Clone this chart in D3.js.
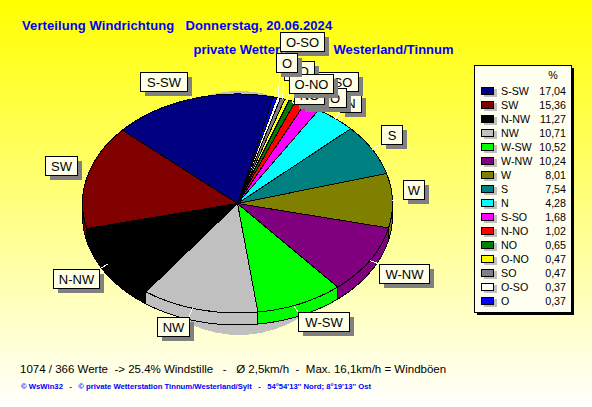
<!DOCTYPE html>
<html><head><meta charset="utf-8">
<script src="https://cdn.jsdelivr.net/npm/d3@7/dist/d3.min.js"></script>
<style>
html,body{margin:0;padding:0;background:#fff}
svg{display:block}
text{font-family:"Liberation Sans",Arial,sans-serif;white-space:pre}
</style></head><body>
<script>
// ---- data ----
const categories = ["S-SW","SW","N-NW","NW","W-SW","W-NW","W","S","N","S-SO","N-NO","NO","O-NO","SO","O-SO","O"];
const percent    = [17.04,15.36,11.27,10.71,10.52,10.24,8.01,7.54,4.28,1.68,1.02,0.65,0.47,0.47,0.37,0.37];
const percentLabels = ["17,04","15,36","11,27","10,71","10,52","10,24","8,01","7,54","4,28","1,68","1,02","0,65","0,47","0,47","0,37","0,37"];
const colors = ["#000080","#800000","#000000","#c0c0c0","#00ff00","#800080","#808000","#008080","#00ffff","#ff00ff","#ff0000","#008000","#ffff00","#808080","#ffffff","#0000ff"];
const title1 = "Verteilung Windrichtung   Donnerstag, 20.06.2024";
const title2 = "private Wetterstation   Westerland/Tinnum";
const statLine = "1074 / 366 Werte  -> 25.4% Windstille   -   Ø 2,5km/h  -  Max. 16,1km/h = Windböen";
const footLine = "© WsWin32   -   © private Wetterstation Tinnum/Westerland/Sylt   -   54°54'13'' Nord; 8°19'13'' Ost";

// ---- layout ----
const W = 592, H = 407;
const pieLayout = {cx:237.5, cy:203.5, rx:155, ry:109.5, depth:12, rotateDeg:13.4};
// label corner offset from the slice anchor on the rim
const labelNudge = {"S-SW":[-4.5,-8],"SW":[-10.5,-1],"N-NW":[-9,5],"NW":[-3.5,9],"W-SW":[4,6.5],"W-NW":[9,3.6],
  "W":[10.5,-1.6],"S":[8.5,-5.6],"N":[4.5,-6.6],"S-SO":[2.5,-16],"N-NO":[0.5,4],"NO":[2,3],"O-NO":[2,-6.7],"SO":[1.5,-18.7],"O-SO":[1.3,-47],"O":[0.7,-25.3]};
const labelWidth = {"S-SW":47,"SW":32,"N-NW":46,"NW":32,"W-SW":51,"W-NW":50,"W":21,"S":21,"N":21,"S-SO":44,"N-NO":46,"NO":30,"O-NO":44,"SO":30,"O-SO":44,"O":21};
const labelOrder = ["S-SW","SW","N-NW","NW","W-SW","W-NW","W","S","N","S-SO","N-NO","NO","SO","O-NO","O-SO","O"];
const overlapSlice = "NW", overlapRad = 5.2*Math.PI/180;

const svg = d3.select("body").append("svg").attr("width",W).attr("height",H);
const grad = svg.append("defs").append("linearGradient").attr("id","bg").attr("x1",0).attr("x2",0).attr("y1",0).attr("y2",1);
grad.append("stop").attr("offset",0).attr("stop-color","#ffff00");
grad.append("stop").attr("offset",1).attr("stop-color","#ffffff");
svg.append("rect").attr("width",W).attr("height",H).attr("fill","url(#bg)");

svg.append("text").attr("x",193.5).attr("y",54).attr("font-size",13).attr("font-weight","bold").attr("fill","#0000ff").text(title2);

const {cx,cy,rx,ry,depth,rotateDeg} = pieLayout;
const start = rotateDeg*Math.PI/180;
const slices = d3.pie().value((d,i)=>percent[i]).sort(null).startAngle(start).endAngle(start-2*Math.PI)(categories);
slices.forEach((s,i)=>{
  s.name = categories[i]; s.color = colors[i];
  s.mid = (s.startAngle+s.endAngle)/2;
  s.drawEnd = s.name===overlapSlice ? s.endAngle-overlapRad : s.endAngle;
});
const px = a => cx + rx*Math.sin(a), py = a => cy - ry*Math.cos(a);

// grey shadow behind the pie
svg.append("ellipse").attr("cx",239).attr("cy",213).attr("rx",118).attr("ry",122)
  .attr("fill","#c0c0c0").attr("shape-rendering","crispEdges");

const paintOrder = slices.slice().sort((a,b)=>(a.name===overlapSlice)-(b.name===overlapSlice));

// side wall
const line = d3.line();
const sideG = svg.append("g");
paintOrder.forEach(s=>{
  const c0 = -s.startAngle, c1 = -s.drawEnd;
  const lo = Math.max(c0, Math.PI/2), hi = Math.min(c1, 3*Math.PI/2);
  if(hi<=lo) return;
  const n = Math.max(2,Math.ceil((hi-lo)*60));
  const angs = d3.range(n+1).map(k=>-(lo+(hi-lo)*k/n));
  const top = angs.map(a=>[px(a),py(a)]);
  const bot = angs.slice().reverse().map(a=>[px(a),py(a)+depth]);
  sideG.append("path").attr("d",line(top.concat(bot))+"Z").attr("fill",s.color)
    .attr("stroke","#000").attr("stroke-width",1).attr("shape-rendering","crispEdges");
});

// top face
const arc = d3.arc().innerRadius(0).outerRadius(rx);
const topG = svg.append("g").attr("transform",`translate(${cx},${cy}) scale(1,${ry/rx})`);
topG.selectAll("path").data(paintOrder).join("path")
  .attr("d",s=>arc({startAngle:s.startAngle,endAngle:s.drawEnd}))
  .attr("fill",d=>d.color).attr("stroke","#000").attr("stroke-width",1)
  .attr("vector-effect","non-scaling-stroke").attr("shape-rendering","crispEdges");

// labels
const labelG = svg.append("g");
const leaders = labelG.append("g");
labelOrder.forEach(name=>{
  const s = slices.find(d=>d.name===name);
  const ax = px(s.mid), ay = py(s.mid);
  const [dx,dy] = labelNudge[name];
  const cornerX = Math.round(ax+dx), cornerY = Math.round(ay+dy);
  leaders.append("line").attr("x1",ax).attr("y1",ay).attr("x2",cornerX).attr("y2",cornerY)
    .attr("stroke","#fff").attr("stroke-width",1).attr("shape-rendering","crispEdges");
  const g = labelG.append("g");
  const t = g.append("text").attr("font-size",13).attr("fill","#000").attr("text-anchor","middle").text(name);
  const w = labelWidth[name], h = 19;
  const leftSide = Math.sin(s.mid) < 0, upper = Math.cos(s.mid) > 0;
  const x = leftSide ? cornerX-w : cornerX, y = upper ? cornerY-h : cornerY;
  g.insert("rect","text").attr("x",x+4.5).attr("y",y+4.5).attr("width",w).attr("height",h).attr("fill","#808080").attr("shape-rendering","crispEdges");
  g.insert("rect","text").attr("x",x+.5).attr("y",y+.5).attr("width",w).attr("height",h).attr("fill","#ffffe6").attr("stroke","#000").attr("shape-rendering","crispEdges");
  t.attr("x",x+w/2+.5).attr("y",y+15);
});

// titles
svg.append("text").attr("x",22).attr("y",30).attr("font-size",13).attr("font-weight","bold").attr("letter-spacing",0.1).attr("fill","#0000ff").text(title1);
svg.append("text").attr("x",20).attr("y",373).attr("font-size",11.5).attr("fill","#000").text(statLine);
svg.append("text").attr("x",21).attr("y",389).attr("font-size",7.7).attr("font-weight","bold").attr("fill","#0000ff").text(footLine);

// legend
const lx=474, ly=65, lw=97, lh=247, rowY=d3.scaleLinear().domain([0,15]).range([91,301]);
const leg = svg.append("g");
leg.append("rect").attr("x",lx+3).attr("y",ly+3).attr("width",lw).attr("height",lh).attr("fill","#000").attr("shape-rendering","crispEdges");
leg.append("rect").attr("x",lx+.5).attr("y",ly+.5).attr("width",lw).attr("height",lh).attr("fill","#fffff0").attr("stroke","#000").attr("shape-rendering","crispEdges");
leg.append("text").attr("x",553).attr("y",79).attr("text-anchor","middle").attr("font-size",10.7).attr("fill","#000").text("%");
categories.forEach((c,i)=>{
  const y=rowY(i);
  leg.append("rect").attr("x",484).attr("y",y-2).attr("width",13).attr("height",8).attr("fill","#c0c0c0").attr("shape-rendering","crispEdges");
  leg.append("rect").attr("x",481.5).attr("y",y-3.5).attr("width",12).attr("height",7).attr("fill",colors[i]).attr("stroke","#000").attr("shape-rendering","crispEdges");
  leg.append("text").attr("x",501).attr("y",y+4).attr("font-size",10.7).attr("fill","#000").text(c);
  leg.append("text").attr("x",566).attr("y",y+4).attr("text-anchor","end").attr("font-size",10.7).attr("fill","#000").text(percentLabels[i]);
});
</script>
</body></html>
